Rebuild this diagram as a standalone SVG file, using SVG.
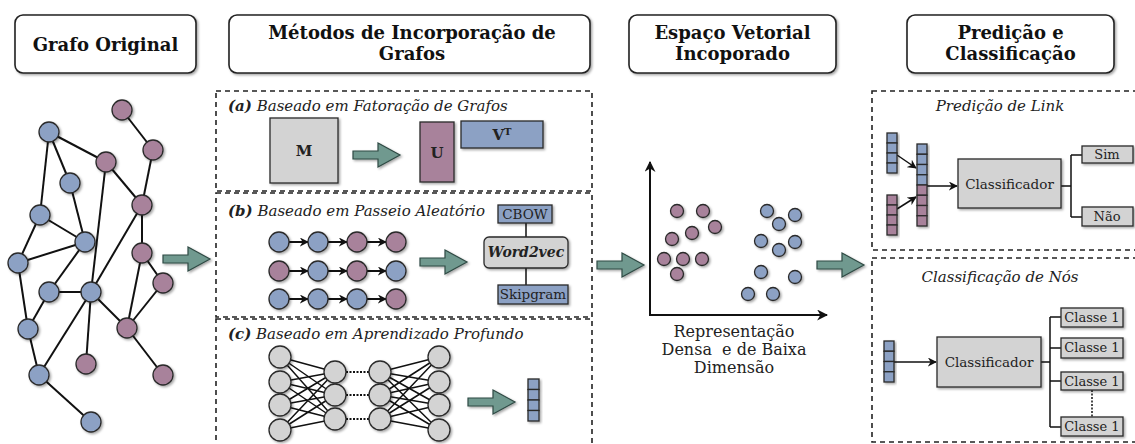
<svg xmlns="http://www.w3.org/2000/svg" width="1135" height="444" viewBox="0 0 1135 444">
<defs>
<style>
.hdr{fill:#fff;stroke:#222;stroke-width:1.6}
.ht{font-family:"DejaVu Serif",serif;font-weight:bold;font-size:18px;fill:#111;text-anchor:middle}
.dash{fill:none;stroke:#222;stroke-width:1.6;stroke-dasharray:5,4}
.lab{font-family:"DejaVu Serif",serif;font-style:italic;font-size:15px;fill:#222}
.t{font-family:"DejaVu Serif",serif;fill:#222;text-anchor:middle;font-size:13px}
.s135{font-size:13.5px}
.s14{font-size:14px}
.s15b{font-size:15px;font-weight:bold}
.s16{font-size:16px}
.bl{fill:#8ca1c4;stroke:#2a2a2a;stroke-width:1.3}
.pu{fill:#a8829b;stroke:#2a2a2a;stroke-width:1.3}
.gr{fill:#d3d3d3;stroke:#2a2a2a;stroke-width:1.3}
.e{stroke:#111;stroke-width:2;fill:none}
.thin{stroke:#111;stroke-width:1.5;fill:none}
.big{fill:#70998f;stroke:#2f4a44;stroke-width:1.2}
</style>
<filter id="sh" x="-30%" y="-30%" width="160%" height="160%">
<feDropShadow dx="1.5" dy="1.5" stdDeviation="1" flood-color="#000" flood-opacity="0.35"/>
</filter>
<marker id="ah" viewBox="0 0 10 10" refX="9" refY="5" markerWidth="9" markerHeight="9" markerUnits="userSpaceOnUse" orient="auto">
<path d="M0,0 L10,5 L0,10 L3,5 Z" fill="#111"/>
</marker>
<marker id="ah2" viewBox="0 0 10 10" refX="9" refY="5" markerWidth="11" markerHeight="11" markerUnits="userSpaceOnUse" orient="auto">
<path d="M0,0 L10,5 L0,10 L3,5 Z" fill="#111"/>
</marker>
<path id="bigArrow" d="M0,-4 H25 V-12 L47,0 L25,12 V4 H0 Z"/>
</defs>
<rect width="1135" height="444" fill="#fff"/>

<!-- headers -->
<g id="hdr-grafo"><rect class="hdr" x="15" y="15" width="181" height="58" rx="8" filter="url(#sh)"/><text class="ht" x="105.5" y="51">Grafo Original</text></g>
<g id="hdr-metodos"><rect class="hdr" x="229" y="15" width="361" height="58" rx="8" filter="url(#sh)"/><text class="ht" x="412" y="39">Métodos de Incorporação de</text><text class="ht" x="412" y="60">Grafos</text></g>
<g id="hdr-espaco"><rect class="hdr" x="629" y="15" width="207" height="58" rx="8" filter="url(#sh)"/><text class="ht" x="732.5" y="39">Espaço Vetorial</text><text class="ht" x="732.5" y="60">Incoporado</text></g>
<g id="hdr-predicao"><rect class="hdr" x="907" y="15" width="207" height="58" rx="8" filter="url(#sh)"/><text class="ht" x="1010.5" y="39">Predição e</text><text class="ht" x="1010.5" y="60">Classificação</text></g>

<!-- dashed panels -->
<g id="panels">
<rect class="dash" x="216" y="91" width="376" height="100"/>
<rect class="dash" x="216" y="193" width="376" height="124"/>
<rect class="dash" x="216" y="319" width="376" height="130"/>
<rect class="dash" x="872" y="91" width="270" height="159"/>
<rect class="dash" x="872" y="258" width="270" height="184"/>
</g>

<!-- connectors -->
<g id="connectors">
<g class="e">
<line x1="49" y1="132" x2="106" y2="162"/><line x1="49" y1="132" x2="70" y2="183"/><line x1="49" y1="132" x2="40" y2="215"/>
<line x1="70" y1="183" x2="85" y2="242"/><line x1="40" y1="215" x2="85" y2="242"/><line x1="40" y1="215" x2="18" y2="263"/>
<line x1="18" y1="263" x2="85" y2="242"/><line x1="18" y1="263" x2="28" y2="329"/><line x1="85" y1="242" x2="49" y2="292"/>
<line x1="49" y1="292" x2="91" y2="292"/><line x1="49" y1="292" x2="28" y2="329"/><line x1="28" y1="329" x2="39" y2="375"/>
<line x1="39" y1="375" x2="91" y2="422"/><line x1="39" y1="375" x2="91" y2="292"/><line x1="91" y1="292" x2="86" y2="364"/>
<line x1="91" y1="292" x2="127" y2="328"/><line x1="91" y1="292" x2="142" y2="205"/><line x1="106" y1="162" x2="91" y2="292"/>
<line x1="106" y1="162" x2="142" y2="205"/><line x1="122" y1="110" x2="153" y2="150"/><line x1="153" y1="150" x2="142" y2="205"/>
<line x1="142" y1="205" x2="142" y2="253"/><line x1="142" y1="253" x2="163" y2="283"/><line x1="142" y1="253" x2="127" y2="328"/>
<line x1="163" y1="283" x2="127" y2="328"/><line x1="127" y1="328" x2="163" y2="375"/>
</g>
<use href="#bigArrow" class="big" x="163" y="259" filter="url(#sh)"/>
<use href="#bigArrow" class="big" x="353" y="155" filter="url(#sh)"/>
<use href="#bigArrow" class="big" x="420" y="262" filter="url(#sh)"/>
<use href="#bigArrow" class="big" x="468" y="402" filter="url(#sh)"/>
<use href="#bigArrow" class="big" x="597" y="265" filter="url(#sh)"/>
<use href="#bigArrow" class="big" x="817" y="265" filter="url(#sh)"/>
<g class="e" marker-end="url(#ah)">
<line x1="289" y1="242" x2="308" y2="242"/><line x1="328" y1="242" x2="347" y2="242"/><line x1="367" y1="242" x2="386" y2="242"/>
<line x1="289" y1="271" x2="308" y2="271"/><line x1="328" y1="271" x2="347" y2="271"/><line x1="367" y1="271" x2="386" y2="271"/>
<line x1="289" y1="299" x2="308" y2="299"/><line x1="328" y1="299" x2="347" y2="299"/><line x1="367" y1="299" x2="386" y2="299"/>
</g>
<line class="thin" x1="526" y1="223" x2="526" y2="237"/>
<line class="thin" x1="526" y1="268" x2="526" y2="285"/>
<g class="thin">
<path d="M280,357 L335,372 M280,357 L335,395 M280,357 L335,419 M280,382 L335,372 M280,382 L335,395 M280,382 L335,419 M280,405 L335,372 M280,405 L335,395 M280,405 L335,419 M280,430 L335,372 M280,430 L335,395 M280,430 L335,419"/>
<path d="M439,357 L380,372 M439,357 L380,395 M439,357 L380,419 M439,382 L380,372 M439,382 L380,395 M439,382 L380,419 M439,405 L380,372 M439,405 L380,395 M439,405 L380,419 M439,430 L380,372 M439,430 L380,395 M439,430 L380,419"/>
</g>
<g stroke="#111" stroke-width="2" stroke-dasharray="2,1.5">
<line x1="346" y1="372" x2="369" y2="372"/><line x1="346" y1="395" x2="369" y2="395"/><line x1="346" y1="419" x2="369" y2="419"/>
</g>
<g class="e" marker-end="url(#ah2)">
<line x1="650" y1="315" x2="650" y2="162"/>
<line x1="649" y1="315" x2="827" y2="315"/>
</g>
<g class="thin" marker-end="url(#ah)">
<line x1="897" y1="155" x2="916" y2="168"/>
<line x1="897" y1="209" x2="916" y2="197"/>
<line x1="927" y1="186" x2="957" y2="186"/>
<line x1="894" y1="362" x2="936" y2="362"/>
</g>
<g class="thin">
<path d="M1061,186 H1071 M1071,155 V217 M1071,155 H1082 M1071,217 H1082"/>
<path d="M1041,362 H1050 M1050,317 V427 M1050,317 H1061 M1050,348 H1061 M1050,381 H1061 M1050,427 H1061"/>
</g>
<line x1="1092" y1="390" x2="1092" y2="417" stroke="#111" stroke-width="1.5" stroke-dasharray="2,1.5"/>
</g>

<g id="graph-nodes" filter="url(#sh)">
<g id="gb1"><circle class="bl" cx="49" cy="132" r="10"/></g>
<g id="gb2"><circle class="bl" cx="70" cy="183" r="10"/></g>
<g id="gb3"><circle class="bl" cx="40" cy="215" r="10"/></g>
<g id="gb4"><circle class="bl" cx="85" cy="242" r="10"/></g>
<g id="gb5"><circle class="bl" cx="18" cy="263" r="10"/></g>
<g id="gb6"><circle class="bl" cx="49" cy="292" r="10"/></g>
<g id="gb7"><circle class="bl" cx="91" cy="292" r="10"/></g>
<g id="gb8"><circle class="bl" cx="28" cy="329" r="10"/></g>
<g id="gb9"><circle class="bl" cx="39" cy="375" r="10"/></g>
<g id="gb10"><circle class="bl" cx="91" cy="422" r="10"/></g>
<g id="gp1"><circle class="pu" cx="122" cy="110" r="10"/></g>
<g id="gp2"><circle class="pu" cx="153" cy="150" r="10"/></g>
<g id="gp3"><circle class="pu" cx="106" cy="162" r="10"/></g>
<g id="gp4"><circle class="pu" cx="142" cy="205" r="10"/></g>
<g id="gp5"><circle class="pu" cx="142" cy="253" r="10"/></g>
<g id="gp6"><circle class="pu" cx="163" cy="283" r="10"/></g>
<g id="gp7"><circle class="pu" cx="127" cy="328" r="10"/></g>
<g id="gp8"><circle class="pu" cx="86" cy="364" r="10"/></g>
<g id="gp9"><circle class="pu" cx="163" cy="375" r="10"/></g>
</g>

<g id="sec-a">
<text class="lab" x="228" y="111"><tspan font-weight="bold">(a)</tspan> Baseado em Fatoração de Grafos</text>
<g id="mat-M"><rect class="gr" x="270" y="118" width="68" height="65" filter="url(#sh)"/><text class="t s15b" x="304" y="156">M</text></g>
<g id="mat-U"><rect class="pu" x="420" y="122" width="34" height="60" filter="url(#sh)"/><text class="t s15b" x="437" y="158">U</text></g>
<g id="mat-VT"><rect class="bl" x="461" y="121" width="82" height="27" filter="url(#sh)"/><text class="t s15b" x="502" y="140">V<tspan dy="-5" font-size="10">T</tspan></text></g>
</g>

<g id="sec-b">
<text class="lab" x="228" y="216"><tspan font-weight="bold">(b)</tspan> Baseado em Passeio Aleatório</text>
<g filter="url(#sh)">
<circle class="bl" cx="279" cy="242" r="10"/><circle class="bl" cx="318" cy="242" r="10"/><circle class="pu" cx="357" cy="242" r="10"/><circle class="pu" cx="396" cy="242" r="10"/>
<circle class="pu" cx="279" cy="271" r="10"/><circle class="bl" cx="318" cy="271" r="10"/><circle class="pu" cx="357" cy="271" r="10"/><circle class="bl" cx="396" cy="271" r="10"/>
<circle class="bl" cx="279" cy="299" r="10"/><circle class="bl" cx="318" cy="299" r="10"/><circle class="bl" cx="357" cy="299" r="10"/><circle class="pu" cx="396" cy="299" r="10"/>
</g>
<g id="cbow"><rect class="bl" x="498" y="205" width="54" height="18" filter="url(#sh)"/><text class="t s135" x="525" y="219">CBOW</text></g>
<g id="word2vec"><rect class="gr" x="484" y="237" width="84" height="31" rx="5" filter="url(#sh)"/><text class="t s14" x="526" y="257" font-weight="bold" font-style="italic">Word2vec</text></g>
<g id="skipgram"><rect class="bl" x="498" y="285" width="70" height="19" filter="url(#sh)"/><text class="t s135" x="533" y="299">Skipgram</text></g>
</g>

<g id="sec-c">
<text class="lab" x="228" y="339"><tspan font-weight="bold">(c)</tspan> Baseado em Aprendizado Profundo</text>
<g filter="url(#sh)" class="gr">
<circle cx="280" cy="357" r="11"/><circle cx="280" cy="382" r="11"/><circle cx="280" cy="405" r="11"/><circle cx="280" cy="430" r="11"/>
<circle cx="335" cy="372" r="11"/><circle cx="335" cy="395" r="11"/><circle cx="335" cy="419" r="11"/>
<circle cx="380" cy="372" r="11"/><circle cx="380" cy="395" r="11"/><circle cx="380" cy="419" r="11"/>
<circle cx="439" cy="357" r="11"/><circle cx="439" cy="382" r="11"/><circle cx="439" cy="405" r="11"/><circle cx="439" cy="430" r="11"/>
</g>
<g id="vec-c" filter="url(#sh)"><rect class="bl" x="528" y="379" width="11" height="10.5"/><rect class="bl" x="528" y="389.5" width="11" height="10.5"/><rect class="bl" x="528" y="400" width="11" height="10.5"/><rect class="bl" x="528" y="410.5" width="11" height="10.5"/></g>
</g>

<g id="space">
<g filter="url(#sh)" class="pu">
<circle cx="677" cy="211" r="6.5"/><circle cx="703" cy="211" r="6.5"/><circle cx="715" cy="227" r="6.5"/><circle cx="692" cy="233" r="6.5"/><circle cx="672" cy="239" r="6.5"/>
<circle cx="664" cy="259" r="6.5"/><circle cx="683" cy="259" r="6.5"/><circle cx="702" cy="259" r="6.5"/><circle cx="677" cy="274" r="6.5"/>
</g>
<g filter="url(#sh)" class="bl">
<circle cx="767" cy="211" r="6.5"/><circle cx="795" cy="215" r="6.5"/><circle cx="779" cy="224" r="6.5"/><circle cx="761" cy="241" r="6.5"/><circle cx="795" cy="242" r="6.5"/>
<circle cx="779" cy="250" r="6.5"/><circle cx="761" cy="272" r="6.5"/><circle cx="795" cy="277" r="6.5"/><circle cx="748" cy="294" r="6.5"/><circle cx="773" cy="294" r="6.5"/>
</g>
<text class="t s16" x="734" y="337">Representação</text>
<text class="t s16" x="734" y="355" xml:space="preserve">Densa  e de Baixa</text>
<text class="t s16" x="734" y="373">Dimensão</text>
</g>

<g id="link-pred">
<text class="lab" x="1000" y="111" text-anchor="middle">Predição de Link</text>
<g id="vec-u" filter="url(#sh)" class="bl"><rect x="887" y="133" width="10" height="10"/><rect x="887" y="143" width="10" height="10"/><rect x="887" y="153" width="10" height="10"/><rect x="887" y="163" width="10" height="10"/></g>
<g id="vec-v" filter="url(#sh)" class="pu"><rect x="887" y="195" width="10" height="10"/><rect x="887" y="205" width="10" height="10"/><rect x="887" y="215" width="10" height="10"/><rect x="887" y="225" width="10" height="10"/></g>
<g id="vec-uv" filter="url(#sh)"><rect class="bl" x="917" y="144" width="10" height="10.25"/><rect class="bl" x="917" y="154.25" width="10" height="10.25"/><rect class="bl" x="917" y="164.5" width="10" height="10.25"/><rect class="bl" x="917" y="174.75" width="10" height="10.25"/><rect class="pu" x="917" y="185" width="10" height="10.25"/><rect class="pu" x="917" y="195.25" width="10" height="10.25"/><rect class="pu" x="917" y="205.5" width="10" height="10.25"/><rect class="pu" x="917" y="215.75" width="10" height="10.25"/></g>
<g id="clf1"><rect class="gr" x="958" y="159" width="103" height="49" filter="url(#sh)"/><text class="t s135" x="1009.5" y="189">Classificador</text></g>
<g id="sim"><rect class="gr" x="1082" y="146" width="51" height="17" filter="url(#sh)"/><text class="t" x="1107" y="159">Sim</text></g>
<g id="nao"><rect class="gr" x="1082" y="207" width="51" height="19" filter="url(#sh)"/><text class="t" x="1107" y="221">Não</text></g>
</g>

<g id="node-clf">
<text class="lab" x="1000" y="282" text-anchor="middle">Classificação de Nós</text>
<g id="vec-n" filter="url(#sh)" class="bl"><rect x="884" y="341" width="10" height="10.25"/><rect x="884" y="351.25" width="10" height="10.25"/><rect x="884" y="361.5" width="10" height="10.25"/><rect x="884" y="371.75" width="10" height="10.25"/></g>
<g id="clf2"><rect class="gr" x="937" y="337" width="104" height="50" filter="url(#sh)"/><text class="t s135" x="989" y="367">Classificador</text></g>
<g id="c1"><rect class="gr" x="1061" y="308" width="62" height="19" filter="url(#sh)"/><text class="t" x="1092" y="322">Classe 1</text></g>
<g id="c2"><rect class="gr" x="1061" y="338" width="62" height="20" filter="url(#sh)"/><text class="t" x="1092" y="352">Classe 1</text></g>
<g id="c3"><rect class="gr" x="1061" y="372" width="62" height="18" filter="url(#sh)"/><text class="t" x="1092" y="386">Classe 1</text></g>
<g id="c4"><rect class="gr" x="1061" y="417" width="62" height="19" filter="url(#sh)"/><text class="t" x="1092" y="431">Classe 1</text></g>
</g>
</svg>
